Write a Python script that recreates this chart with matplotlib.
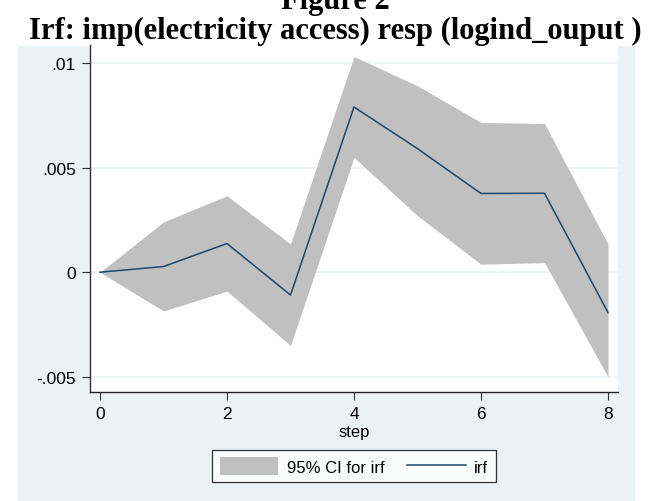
import matplotlib.pyplot as plt
from matplotlib.patches import Patch
from matplotlib.lines import Line2D

# ============================= DATA =============================
step = [0, 1, 2, 3, 4, 5, 6, 7, 8]
irf = [0.0, 0.00027, 0.00137, -0.00109, 0.00789, 0.0059, 0.00376, 0.00377, -0.00193]
ci_upper = [0.0, 0.0024, 0.00365, 0.00135, 0.0103, 0.0089, 0.00715, 0.0071, 0.00134]
ci_lower = [0.0, -0.00185, -0.0009, -0.0035, 0.00548, 0.0027, 0.00038, 0.00046, -0.0050]
yticks = [-0.005, 0, 0.005, 0.01]
ytick_labels = ["-.005", "0", ".005", ".01"]
xticks = [0, 2, 4, 6, 8]

BG = "#eaf2f3"
NAVY = "#1a476f"
GREY = "#c0c0c0"

plt.rcParams["font.family"] = ["Liberation Sans", "DejaVu Sans"]

# ============================= FIGURE =============================
fig = plt.figure(figsize=(6.51, 5.02), dpi=100)
W, H = 651, 502

# stata outer region (graph region colour)
bg = fig.add_axes([18 / W, 0, (635 - 18) / W, 1 - 47 / H], zorder=0)
bg.set_facecolor(BG)
bg.set_xticks([])
bg.set_yticks([])
for s in bg.spines.values():
    s.set_visible(False)

ax = fig.add_axes([90 / W, 1 - 393 / H, (618 - 90) / W, (393 - 46) / H], zorder=1)
ax.set_facecolor("white")

ax.fill_between(step, ci_lower, ci_upper, color=GREY, linewidth=0, zorder=2)
ax.plot(step, irf, color=NAVY, linewidth=1.1, zorder=3)

ax.set_xlim(-0.157, 8.157)
ax.set_ylim(-0.00572, 0.01085)
ax.set_xticks(xticks)
ax.set_yticks(yticks)
ax.set_yticklabels(ytick_labels)
ax.tick_params(axis="both", direction="out", length=6, width=0.8,
               labelsize=12.5, color="#333333", pad=4)
ax.grid(axis="y", color=BG, linewidth=1.2, zorder=1)
ax.set_axisbelow(True)
for s in ["top", "right"]:
    ax.spines[s].set_visible(False)
ax.spines["left"].set_linewidth(1)
ax.spines["bottom"].set_linewidth(1)
ax.spines["left"].set_color("#333333")
ax.spines["bottom"].set_color("#222222")
ax.set_xlabel("step", fontsize=12, labelpad=2)

# titles
fig.text(335 / W, 1 - 9 / H, "Figure 2", ha="center", va="baseline",
         fontsize=22, fontweight="bold", family="Liberation Serif")
fig.text(335 / W, 1 - 39 / H, "Irf: imp(electricity access) resp (logind_ouput )",
         ha="center", va="baseline", fontsize=22, fontweight="bold",
         family="Liberation Serif")

handles = [Patch(facecolor=GREY, edgecolor="none"),
           Line2D([0], [0], color=NAVY, linewidth=1.1)]
leg = fig.legend(handles, ["95% CI for irf", "irf"], loc="center",
                 bbox_to_anchor=(354 / W, 1 - 467 / H), ncol=2, fontsize=12,
                 frameon=True, fancybox=False, handlelength=3.5,
                 handleheight=1.2, handletextpad=0.5, columnspacing=1.4,
                 borderpad=0.45, borderaxespad=0)
leg.get_frame().set_edgecolor("black")
leg.get_frame().set_linewidth(0.9)
leg.set_zorder(5)

fig.savefig("out.png", dpi=100)
